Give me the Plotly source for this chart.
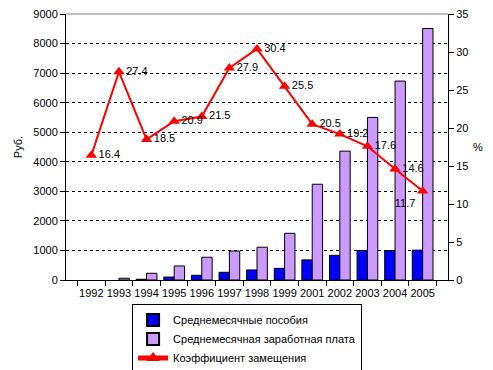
import plotly.graph_objects as go

years = ["1992", "1993", "1994", "1995", "1996", "1997", "1998", "1999",
         "2001", "2002", "2003", "2004", "2005"]
benefit = [None, None, 25, 100, 160, 260, 340, 395, 680, 835, 995, 995, 1010]
salary = [None, 60, 227, 475, 770, 980, 1110, 1580, 3240, 4360, 5500, 6730, 8510]
ratio = [16.4, 27.4, 18.5, 20.9, 21.5, 27.9, 30.4, 25.5, 20.5, 19.2, 17.6, 14.6, 11.7]
ratio_labels = [f"{v:.1f}" for v in ratio]
label_pos = ["middle right"] * 12 + ["bottom left"]

FONT = "Liberation Sans, Arial, sans-serif"

fig = go.Figure()
fig.add_trace(go.Bar(x=years, y=benefit, name="Среднемесячные пособия",
                     marker=dict(color="#0000FF", line=dict(color="black", width=1))))
fig.add_trace(go.Bar(x=years, y=salary, name="Среднемесячная заработная плата",
                     marker=dict(color="#CC99FF", line=dict(color="black", width=1))))
fig.add_trace(go.Scatter(x=years, y=ratio, name="Коэффициент замещения", yaxis="y2",
                         mode="lines+markers+text", text=ratio_labels,
                         textposition=label_pos,
                         textfont=dict(family=FONT, size=11, color="black"),
                         line=dict(color="#FF0000", width=2),
                         marker=dict(symbol="triangle-up", size=10, color="#FF0000")))

# page body has an 8px default margin, so the figure is sized to fit the window
fig.update_layout(
    width=485, height=362,
    margin=dict(l=58, r=45, t=6, b=90, autoexpand=False),
    paper_bgcolor="white", plot_bgcolor="white",
    font=dict(family=FONT, size=11, color="black"),
    barmode="group", bargap=0.25, bargroupgap=0.0,
    showlegend=True,
    legend=dict(x=0.173, y=-0.092, xanchor="left", yanchor="top",
                bordercolor="black", borderwidth=1, bgcolor="white",
                font=dict(family=FONT, size=11), tracegroupgap=0,
                itemsizing="constant"),
    xaxis=dict(type="category", showline=True, linecolor="black", linewidth=1,
               ticks="outside", ticklen=5, tickcolor="black", tickson="boundaries",
               showgrid=False, tickangle=0, tickfont=dict(size=11), automargin=False,
               ticklabelstandoff=3),
    yaxis=dict(range=[0, 9000], dtick=1000, showline=True, linecolor="black",
               linewidth=1, ticks="outside", ticklen=5, tickcolor="black",
               showgrid=True, gridcolor="black", griddash="3px,3px", gridwidth=1,
               zeroline=False, tickformat="d", automargin=False,
               ticklabeloverflow="allow",
               title=dict(text="Руб.", font=dict(size=11), standoff=8)),
    yaxis2=dict(range=[0, 35], dtick=5, overlaying="y", side="right",
                showline=True, linecolor="black", linewidth=1, ticks="outside",
                ticklen=5, tickcolor="black", showgrid=False, zeroline=False,
                automargin=False, ticklabeloverflow="allow"),
    shapes=[dict(type="line", xref="paper", yref="paper", x0=0, x1=1, y0=1, y1=1,
                 line=dict(color="gray", width=1))],
    annotations=[dict(text="%", xref="paper", yref="paper", x=1.06, y=0.5,
                      showarrow=False, xanchor="left", font=dict(size=11))],
)

fig.write_html("out.html")
